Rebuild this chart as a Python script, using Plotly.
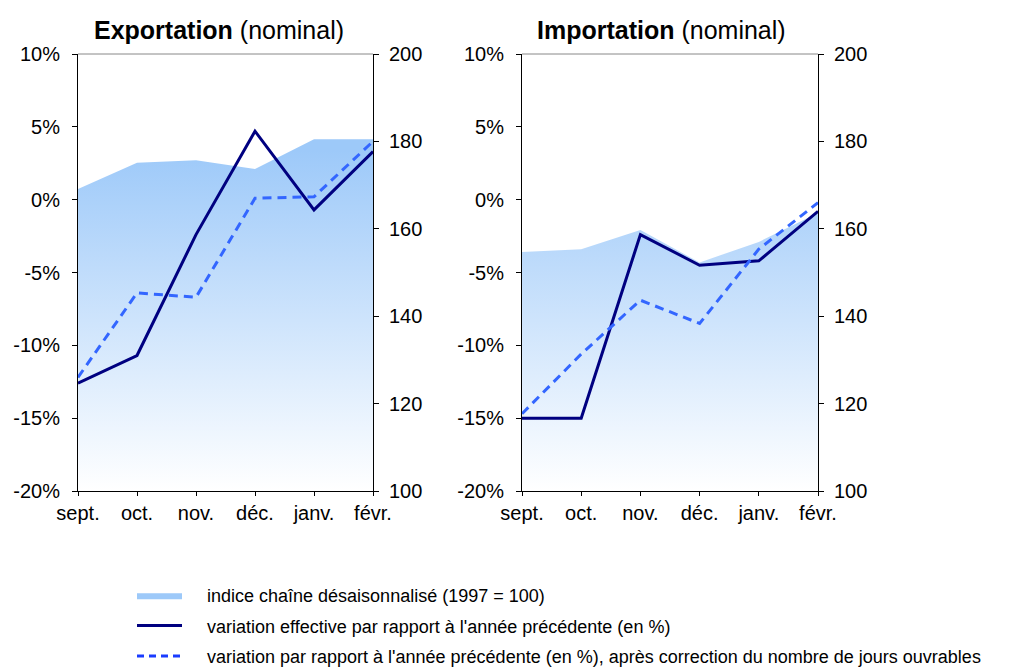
import plotly.graph_objects as go

months = ["sept.", "oct.", "nov.", "déc.", "janv.", "févr."]
x_idx = [0, 1, 2, 3, 4, 5]

exp_index = [169.1, 175.1, 175.7, 173.7, 180.5, 180.5]
exp_effective = [-12.6, -10.7, -2.4, 4.7, -0.7, 3.3]
exp_adjusted = [-12.2, -6.4, -6.7, 0.1, 0.2, 4.0]

imp_index = [154.7, 155.3, 159.7, 152.3, 157.0, 163.6]
imp_effective = [-15.0, -15.0, -2.4, -4.5, -4.2, -0.8]
imp_adjusted = [-14.7, -10.6, -6.9, -8.5, -3.4, -0.2]

left_ticks = [-20, -15, -10, -5, 0, 5, 10]
left_ticktext = ["-20%", "-15%", "-10%", "-5%", "0%", "5%", "10%"]
right_ticks = [100, 120, 140, 160, 180, 200]

names = [
    "indice chaîne désaisonnalisé (1997 = 100)",
    "variation effective par rapport à l'année précédente (en %)",
    "variation par rapport à l'année précédente (en %), après correction du nombre de jours ouvrables",
]

FONT = "Liberation Sans, Arial, sans-serif"
AREA = "#9DC9F9"
NAVY = "#000080"
DASH = "#3366FF"
PAD = "\u00a0" * 4

# page body has an 8px margin: figure is 1003x659, positions = reference px - 8
W, H = 1003, 659
def px(x):
    return (x - 8) / W
def py(y):
    return (H - (y - 8)) / H

fig = go.Figure()

# base axes (y, y3) = right-side index axes; overlay axes (y2, y4) = left-side % axes
panels = [
    (exp_index, exp_effective, exp_adjusted, "x", "y", "y2"),
    (imp_index, imp_effective, imp_adjusted, "x2", "y3", "y4"),
]

for idx, eff, adj, xa, ya_idx, ya_pct in panels:
    fig.add_trace(go.Scatter(
        x=x_idx, y=idx, xaxis=xa, yaxis=ya_idx, mode="lines",
        line=dict(width=0, color=AREA), fill="tozeroy",
        fillgradient=dict(type="vertical", start=100, stop=178,
                          colorscale=[[0, "#FFFFFF"], [1, AREA]]),
        name=names[0], showlegend=False, hoverinfo="skip",
    ))
    fig.add_trace(go.Scatter(
        x=x_idx, y=eff, xaxis=xa, yaxis=ya_pct, mode="lines",
        line=dict(width=3, color=NAVY), name=names[1], showlegend=False,
    ))
    fig.add_trace(go.Scatter(
        x=x_idx, y=adj, xaxis=xa, yaxis=ya_pct, mode="lines",
        line=dict(width=3, color=DASH, dash="9px,6px"), name=names[2], showlegend=False,
    ))

# legend entries
fig.add_trace(go.Scatter(
    x=[None], y=[None], xaxis="x", yaxis="y", mode="lines",
    line=dict(width=0, color=AREA), fill="toself", fillcolor=AREA,
    name=PAD + names[0], legendgroup="a",
))
fig.add_trace(go.Scatter(
    x=[None], y=[None], xaxis="x", yaxis="y2", mode="lines",
    line=dict(width=3, color=NAVY), name=PAD + names[1], legendgroup="b",
))
fig.add_trace(go.Scatter(
    x=[None], y=[None], xaxis="x", yaxis="y2", mode="lines",
    line=dict(width=3, color="#1A3CFF", dash="7px,5px"), name=PAD + names[2], legendgroup="c",
))

xdom1 = [px(78), px(373)]
xdom2 = [px(522), px(818)]
ydom = [py(491), py(54)]

tickfont = dict(family=FONT, size=20, color="black")

def xaxis(dom, anchor):
    return dict(domain=dom, anchor=anchor, range=[0, 5], tickvals=x_idx, ticktext=months,
                showgrid=False, zeroline=False, showline=True, linecolor="black", linewidth=1,
                ticks="outside", ticklen=4, tickcolor="black", tickfont=tickfont,
                automargin=False)

def yright(anchor):
    return dict(domain=ydom, anchor=anchor, side="right", range=[100, 200],
                tickvals=right_ticks, showgrid=False, zeroline=False, showline=True,
                linecolor="black", linewidth=1, ticks="outside", ticklen=5, tickcolor="black",
                tickfont=tickfont, ticklabelstandoff=6, automargin=False)

def yleft(anchor, overlay):
    return dict(domain=ydom, anchor=anchor, overlaying=overlay, side="left", range=[-20, 10],
                tickvals=left_ticks, ticktext=left_ticktext, showgrid=False, zeroline=False,
                showline=True, linecolor="black", linewidth=1, ticks="outside", ticklen=5,
                tickcolor="black", tickfont=tickfont, ticklabelstandoff=8, automargin=False)

fig.update_layout(
    width=W, height=H,
    margin=dict(l=0, r=0, t=0, b=0, autoexpand=False),
    paper_bgcolor="white", plot_bgcolor="white",
    font=dict(family=FONT, color="black"),
    xaxis=xaxis(xdom1, "y"),
    yaxis=yright("x"),
    yaxis2=yleft("x", "y"),
    xaxis2=xaxis(xdom2, "y3"),
    yaxis3=yright("x2"),
    yaxis4=yleft("x2", "y3"),
    legend=dict(x=px(132), y=py(577), xanchor="left", yanchor="top",
                font=dict(family=FONT, size=18, color="black"), itemwidth=45,
                tracegroupgap=4, bgcolor="rgba(0,0,0,0)"),
    annotations=[
        dict(text="<b>Exportation</b> (nominal)", x=px(219), y=py(30),
             xref="paper", yref="paper", xanchor="center", yanchor="middle",
             showarrow=False, font=dict(family=FONT, size=25)),
        dict(text="<b>Importation</b> (nominal)", x=px(661), y=py(30),
             xref="paper", yref="paper", xanchor="center", yanchor="middle",
             showarrow=False, font=dict(family=FONT, size=25)),
    ],
    shapes=[
        dict(type="line", xref="paper", yref="paper", x0=xdom1[0], x1=xdom1[1],
             y0=ydom[1], y1=ydom[1], line=dict(color="#888888", width=1)),
        dict(type="line", xref="paper", yref="paper", x0=xdom2[0], x1=xdom2[1],
             y0=ydom[1], y1=ydom[1], line=dict(color="#888888", width=1)),
    ],
)

fig.write_html("out.html")
